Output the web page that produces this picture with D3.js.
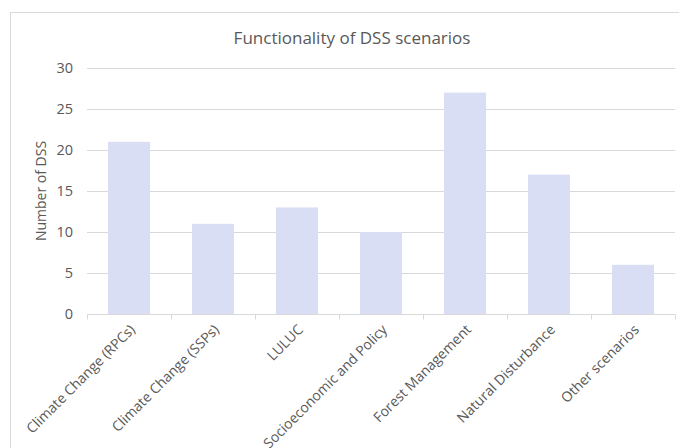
<!DOCTYPE html>
<html>
<head>
<meta charset="utf-8">
<script src="https://cdn.jsdelivr.net/npm/d3@7"></script>
<style>
  html, body { margin: 0; padding: 0; background: #fff; }
  svg { display: block; }
  text { font-family: "Open Sans", sans-serif; fill: #595959; }
</style>
</head>
<body>
<svg id="chart" width="679" height="448"></svg>
<script>
// Scenario categories and the number of DSS supporting each
const categories = [
  "Climate Change (RPCs)",
  "Climate Change (SSPs)",
  "LULUC",
  "Socioeconomic and Policy",
  "Forest Management",
  "Natural Disturbance",
  "Other scenarios"
];
const counts = [21, 11, 13, 10, 27, 17, 6];
const yTicks = [0, 5, 10, 15, 20, 25, 30];
const titleText = "Functionality of DSS scenarios";
const yAxisTitle = "Number of DSS";

const svg = d3.select("#chart");
const W = 679, H = 448;
const plot = { left: 87, right: 675, top: 68, bottom: 314 };

// Outer chart frame (extends past the right and bottom edges)
svg.append("rect")
  .attr("x", 10.5).attr("y", 12.5)
  .attr("width", W + 20).attr("height", H + 20)
  .attr("fill", "#fff")
  .attr("stroke", "#d9d9d9").attr("stroke-width", 1);

const x = d3.scaleBand()
  .domain(categories)
  .range([plot.left, plot.right])
  .paddingInner(0.5).paddingOuter(0.25);

const y = d3.scaleLinear()
  .domain([0, 30])
  .range([plot.bottom, plot.top]);

// Horizontal gridlines
svg.append("g")
  .selectAll("line")
  .data(yTicks.filter(d => d > 0))
  .join("line")
  .attr("x1", plot.left).attr("x2", plot.right)
  .attr("y1", d => Math.round(y(d)) + 0.5)
  .attr("y2", d => Math.round(y(d)) + 0.5)
  .attr("stroke", "#d9d9d9").attr("stroke-width", 1);

// Bars
svg.append("g")
  .selectAll("rect")
  .data(categories.map((c, i) => ({ c, v: counts[i] })))
  .join("rect")
  .attr("x", d => x(d.c))
  .attr("y", d => y(d.v))
  .attr("width", x.bandwidth())
  .attr("height", d => y(0) - y(d.v))
  .attr("fill", "#dadef4");

// Y axis tick labels
const yAxis = d3.axisLeft(y).tickValues(yTicks).tickSize(0).tickPadding(14);
const gy = svg.append("g")
  .attr("transform", `translate(${plot.left},0)`)
  .call(yAxis);
gy.select(".domain").remove();
gy.selectAll("text")
  .style("font-family", "'Open Sans', sans-serif")
  .style("font-size", "14.5px")
  .attr("fill", "#595959");

// X axis with boundary ticks between categories
const gx = svg.append("g")
  .attr("transform", `translate(0,${plot.bottom + 0.5})`);
gx.append("line")
  .attr("x1", plot.left).attr("x2", plot.right)
  .attr("stroke", "#d9d9d9");
const edges = d3.range(categories.length + 1).map(i => plot.left + i * (plot.right - plot.left) / categories.length);
gx.selectAll("line.tick")
  .data(edges)
  .join("line")
  .attr("class", "tick")
  .attr("x1", d => Math.round(d) + 0.5).attr("x2", d => Math.round(d) + 0.5)
  .attr("y1", 0).attr("y2", 5)
  .attr("stroke", "#d9d9d9");

// Rotated category labels
gx.selectAll("text.cat")
  .data(categories)
  .join("text")
  .attr("class", "cat")
  .attr("text-anchor", "end")
  .attr("transform", d => `translate(${x(d) + x.bandwidth() / 2 + 7},${16}) rotate(-45)`)
  .style("font-size", "14px")
  .text(d => d);

// Y axis title
svg.append("text")
  .attr("transform", `translate(46,${(plot.top + plot.bottom) / 2}) rotate(-90)`)
  .attr("text-anchor", "middle")
  .style("font-size", "14px")
  .text(yAxisTitle);

// Chart title
svg.append("text")
  .attr("x", 352).attr("y", 44)
  .attr("text-anchor", "middle")
  .style("font-size", "17px")
  .text(titleText);
</script>
</body>
</html>
